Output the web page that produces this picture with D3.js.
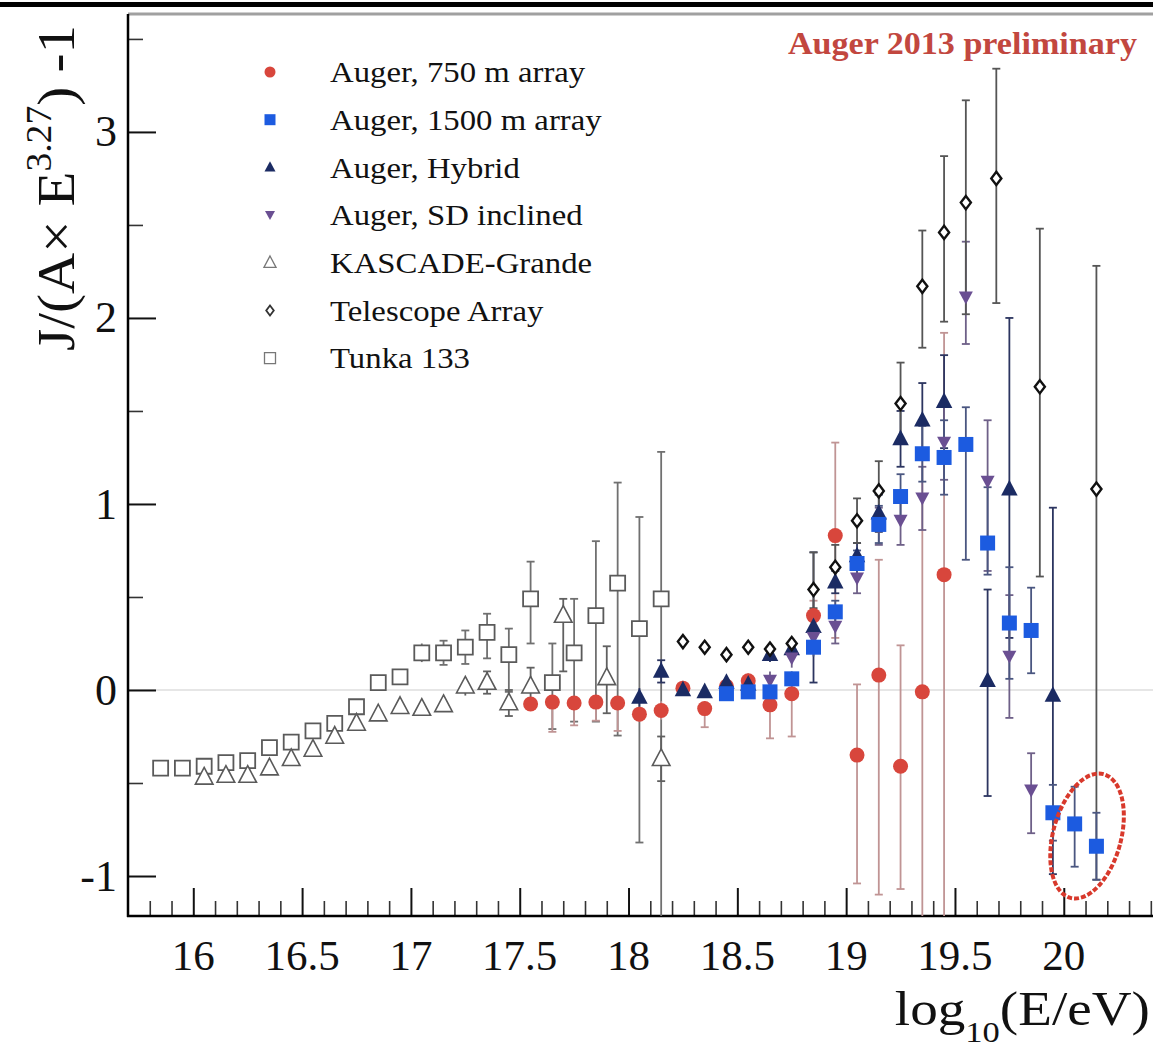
<!DOCTYPE html>
<html><head><meta charset="utf-8">
<script src="https://cdn.jsdelivr.net/npm/d3@7"></script>
<style>html,body{margin:0;padding:0;background:#fff;}svg{display:block;font-family:"Liberation Serif","DejaVu Serif",serif;}</style>
</head><body><svg id="c" width="1153" height="1055"></svg>
<script>
// ---------------- DATA ----------------
const xTickLabels = ["16","16.5","17","17.5","18","18.5","19","19.5","20"];
const yTickLabels = ["-1","0","1","2","3"];
const legendLabels = ["Auger, 750 m array","Auger, 1500 m array","Auger, Hybrid","Auger, SD inclined","KASCADE-Grande","Telescope Array","Tunka 133"];

const tunkaX = [15.85,15.95,16.05,16.15,16.25,16.35,16.45,16.55,16.65,16.75,16.85,16.95,17.05,17.15,17.25,17.35,17.45,17.55,17.65,17.75,17.85,17.95,18.05,18.15];
const tunkaY = [-0.42,-0.42,-0.41,-0.39,-0.38,-0.31,-0.28,-0.22,-0.18,-0.09,0.04,0.07,0.20,0.20,0.23,0.31,0.19,0.49,0.04,0.20,0.40,0.575,0.33,0.49];
const tunkaErrLo = [0.01,0.01,0.02,0.02,0.02,0.02,0.02,0.02,0.03,0.03,0.03,0.04,0.05,0.065,0.09,0.14,0.20,0.24,0.25,0.37,0.57,0.82,1.15,1.8];
const tunkaErrHi = [0.01,0.01,0.02,0.02,0.02,0.02,0.02,0.02,0.03,0.03,0.03,0.04,0.05,0.065,0.09,0.10,0.14,0.20,0.21,0.29,0.40,0.54,0.60,0.79];

const kgX = [16.05,16.15,16.25,16.35,16.45,16.55,16.65,16.75,16.85,16.95,17.05,17.15,17.25,17.35,17.45,17.55,17.70,17.90,18.15];
const kgY = [-0.47,-0.46,-0.46,-0.42,-0.37,-0.32,-0.25,-0.18,-0.13,-0.09,-0.10,-0.08,0.02,0.04,-0.07,0.02,0.40,0.065,-0.37];
const kgErrLo = [0.02,0.02,0.02,0.02,0.02,0.02,0.02,0.02,0.02,0.02,0.02,0.03,0.05,0.06,0.07,0.10,0.30,0.19,0.12];
const kgErrHi = [0.02,0.02,0.02,0.02,0.02,0.02,0.02,0.02,0.02,0.02,0.02,0.03,0.05,0.06,0.07,0.10,0.09,0.17,0.12];

const a750X = [17.55,17.65,17.75,17.85,17.95,18.05,18.15,18.25,18.35,18.45,18.55,18.65,18.75,18.85,18.95,19.05,19.15,19.25,19.35,19.45];
const a750Y = [-0.075,-0.065,-0.07,-0.065,-0.07,-0.13,-0.11,0.01,-0.10,0.02,0.05,-0.08,-0.02,0.40,0.83,-0.35,0.08,-0.41,-0.01,0.62];
const a750ErrLo = [0.03,0.16,0.12,0.10,0.15,0.04,0.05,0.04,0.10,0.04,0.04,0.18,0.23,0.08,0.55,0.69,1.18,0.66,1.30,1.90];
const a750ErrHi = [0.03,0.03,0.03,0.03,0.03,0.04,0.05,0.04,0.04,0.04,0.04,0.05,0.05,0.08,0.50,0.38,0.62,0.65,1.30,1.30];

const a1500X = [18.45,18.55,18.65,18.75,18.85,18.95,19.05,19.15,19.25,19.35,19.45,19.55,19.65,19.75,19.85,19.95,20.05,20.15];
const a1500Y = [-0.02,-0.01,-0.01,0.06,0.23,0.42,0.68,0.89,1.04,1.27,1.25,1.32,0.79,0.36,0.32,-0.66,-0.72,-0.84];
const a1500ErrLo = [0.03,0.03,0.03,0.04,0.05,0.06,0.07,0.10,0.12,0.15,0.20,0.62,0.17,0.30,0.23,0.15,0.23,0.18];
const a1500ErrHi = [0.03,0.03,0.03,0.04,0.05,0.06,0.07,0.10,0.12,0.15,0.20,0.20,0.30,0.30,0.23,0.15,0.20,0.18];

const hybX = [18.05,18.15,18.25,18.35,18.45,18.55,18.65,18.75,18.85,18.95,19.05,19.15,19.25,19.35,19.45,19.65,19.75,19.95];
const hybY = [-0.04,0.10,0.00,-0.01,0.04,0.03,0.19,0.22,0.34,0.58,0.72,0.95,1.35,1.45,1.55,0.05,1.08,-0.03];
const hybErrLo = [0.05,0.06,0.03,0.03,0.03,0.03,0.04,0.05,0.30,0.06,0.07,0.10,0.15,0.20,0.25,0.62,0.80,0.96];
const hybErrHi = [0.05,0.06,0.03,0.03,0.03,0.03,0.04,0.05,0.40,0.06,0.07,0.10,0.15,0.20,0.25,0.49,0.92,1.01];

const sdX = [18.65,18.75,18.85,18.95,19.05,19.15,19.25,19.35,19.45,19.55,19.65,19.75,19.85];
const sdY = [0.05,0.17,0.28,0.34,0.60,0.88,0.91,1.03,1.33,2.11,1.12,0.18,-0.54];
const sdErrLo = [0.05,0.05,0.06,0.09,0.08,0.10,0.13,0.17,0.20,0.25,0.48,0.33,0.23];
const sdErrHi = [0.05,0.05,0.06,0.09,0.08,0.10,0.13,0.17,0.20,0.30,0.33,0.33,0.20];

const taX = [18.25,18.35,18.45,18.55,18.65,18.75,18.85,18.95,19.05,19.15,19.25,19.35,19.45,19.55,19.69,19.89,20.15];
const taY = [0.26,0.23,0.19,0.23,0.22,0.25,0.54,0.66,0.91,1.07,1.54,2.17,2.46,2.62,2.75,1.63,1.08];
const taErrLo = [0.02,0.02,0.02,0.02,0.03,0.03,0.10,0.10,0.12,0.16,0.20,0.33,0.48,0.60,0.67,1.02,2.10];
const taErrHi = [0.02,0.02,0.02,0.02,0.03,0.03,0.20,0.12,0.12,0.16,0.22,0.30,0.41,0.55,0.59,0.85,1.20];

// annotation (hand-drawn ellipse) centre in data units
const ellipseCentre = [20.107, -0.785];

// ---------------- CHART ----------------
const svg = d3.select("#c");
const plot = {left:128, right:1153, top:14, bottom:916};
const x = d3.scaleLinear().domain([15.7, 20.41]).range([plot.left, plot.right]);
const y = d3.scaleLinear().domain([-1.215, 3.634]).range([plot.bottom, plot.top]);
const SX = 1.1; // horizontal stretch of the source image text

function txt(g, px, py, str, o) {
  const sx = (o.sx === undefined) ? SX : o.sx;
  const t = g.append("text")
    .attr("transform", `translate(${px},${py}) scale(${sx},1)`)
    .attr("text-anchor", o.anchor||"start")
    .attr("font-size", o.size)
    .attr("font-weight", o.weight||"normal")
    .attr("fill", o.fill||"#111");
  if (o.dy) t.attr("dy", o.dy);
  t.text(str);
  return t;
}

// page top border
svg.append("rect").attr("x",0).attr("y",2).attr("width",1153).attr("height",5).attr("fill","#000");
// top frame
svg.append("line").attr("x1",plot.left).attr("x2",plot.right).attr("y1",14).attr("y2",14)
  .attr("stroke","#a0a0a0").attr("stroke-width",3);

// zero line
svg.append("line").attr("x1",plot.left).attr("x2",plot.right).attr("y1",y(0)).attr("y2",y(0))
  .attr("stroke","#e6e6e6").attr("stroke-width",2);

// axes
const xMajorVals = xTickLabels.map(Number);
const xMinorVals = d3.range(158, 205).map(d => d/10).filter(v => Math.abs(v*2 - Math.round(v*2)) > 1e-6);
const yMajorVals = yTickLabels.map(Number);
const yMinorVals = [-0.5, 0.5, 1.5, 2.5, 3.5];

const gx = svg.append("g").attr("transform", `translate(0,${plot.bottom})`);
gx.append("g").call(d3.axisBottom(x).tickValues(xMinorVals).tickSize(-15).tickFormat(""))
  .call(g => { g.select(".domain").remove(); g.selectAll("line").attr("stroke","#333").attr("stroke-width",1.6); });
gx.append("g").call(d3.axisBottom(x).tickValues(xMajorVals).tickSize(-28).tickFormat(""))
  .call(g => { g.select(".domain").remove(); g.selectAll("line").attr("stroke","#111").attr("stroke-width",2); });

const gy = svg.append("g").attr("transform", `translate(${plot.left},0)`);
gy.append("g").call(d3.axisLeft(y).tickValues(yMinorVals).tickSize(-15).tickFormat(""))
  .call(g => { g.select(".domain").remove(); g.selectAll("line").attr("stroke","#333").attr("stroke-width",1.6); });
gy.append("g").call(d3.axisLeft(y).tickValues(yMajorVals).tickSize(-28).tickFormat(""))
  .call(g => { g.select(".domain").remove(); g.selectAll("line").attr("stroke","#111").attr("stroke-width",2); });

// axis lines
svg.append("line").attr("x1",plot.left).attr("x2",plot.left).attr("y1",plot.top).attr("y2",plot.bottom+1)
  .attr("stroke","#000").attr("stroke-width",2.5);
svg.append("line").attr("x1",plot.left-1).attr("x2",plot.right).attr("y1",plot.bottom).attr("y2",plot.bottom)
  .attr("stroke","#000").attr("stroke-width",2.5);

// tick labels
const labG = svg.append("g");
xTickLabels.forEach(l => txt(labG, x(+l), 970, l, {size:43, anchor:"middle", sx:1.0}));
yTickLabels.forEach(l => txt(labG, 117, y(+l), l, {size:44, anchor:"end", dy:"0.33em", sx:1.0}));

// axis titles
const xt = svg.append("text").attr("transform", `translate(1150,1025) scale(1.15,1)`)
  .attr("text-anchor","end").attr("font-size",48).attr("fill","#111");
xt.append("tspan").text("log");
xt.append("tspan").attr("font-size",30).attr("dy",17).text("10");
xt.append("tspan").attr("dy",-17).text("(E/eV)");

const yt = svg.append("text").attr("transform", `translate(74,188) rotate(-90) scale(1.14,1.06)`)
  .attr("text-anchor","middle").attr("font-size",50).attr("fill","#111");
yt.append("tspan").text("J/(A× E");
yt.append("tspan").attr("font-size",33).attr("dy",-22).text("3.27");
yt.append("tspan").attr("dy",22).text(") -1");

// "Auger 2013 preliminary"
txt(svg, 1137, 54, "Auger 2013 preliminary", {size:31, anchor:"end", weight:"bold", fill:"#c2473f"});

// ---------------- MARKS ----------------
svg.append("clipPath").attr("id","clip").append("rect")
  .attr("x",plot.left+1).attr("y",plot.top).attr("width",plot.right-plot.left).attr("height",plot.bottom-plot.top);
const dataG = svg.append("g").attr("clip-path","url(#clip)");

const series = [
  {name:"tunka", xs:tunkaX, ys:tunkaY, lo:tunkaErrLo, hi:tunkaErrHi, bar:"#707070"},
  {name:"kg", xs:kgX, ys:kgY, lo:kgErrLo, hi:kgErrHi, bar:"#606060"},
  {name:"a750", xs:a750X, ys:a750Y, lo:a750ErrLo, hi:a750ErrHi, bar:"#c09494"},
  {name:"hyb", xs:hybX, ys:hybY, lo:hybErrLo, hi:hybErrHi, bar:"#2c3560"},
  {name:"sd", xs:sdX, ys:sdY, lo:sdErrLo, hi:sdErrHi, bar:"#6e6088"},
  {name:"ta", xs:taX, ys:taY, lo:taErrLo, hi:taErrHi, bar:"#555"},
  {name:"a1500", xs:a1500X, ys:a1500Y, lo:a1500ErrLo, hi:a1500ErrHi, bar:"#4a5680"}
];

// error bars
const errG = dataG.append("g");
series.forEach(s => {
  const pts = s.xs.map((xv,i) => ({x:xv, y:s.ys[i], lo:s.lo[i], hi:s.hi[i]}));
  const g = errG.append("g").attr("stroke", s.bar).attr("stroke-width",1.8);
  g.selectAll("line.v").data(pts).join("line").attr("class","v")
    .attr("x1",d=>x(d.x)).attr("x2",d=>x(d.x)).attr("y1",d=>y(d.y-d.lo)).attr("y2",d=>y(d.y+d.hi));
  g.selectAll("line.t").data(pts.filter(d=>d.hi>0.05)).join("line").attr("class","t")
    .attr("x1",d=>x(d.x)-4).attr("x2",d=>x(d.x)+4).attr("y1",d=>y(d.y+d.hi)).attr("y2",d=>y(d.y+d.hi));
  g.selectAll("line.b").data(pts.filter(d=>d.lo>0.05)).join("line").attr("class","b")
    .attr("x1",d=>x(d.x)-4).attr("x2",d=>x(d.x)+4).attr("y1",d=>y(d.y-d.lo)).attr("y2",d=>y(d.y-d.lo));
});

// marker shapes (relative paths)
const shapes = {
  circle: r => `M${-r},0a${r},${r} 0 1,0 ${2*r},0a${r},${r} 0 1,0 ${-2*r},0Z`,
  square: s => `M${-s/2},${-s/2}h${s}v${s}h${-s}Z`,
  triUp: s => `M0,${-s*0.62}L${s*0.55},${s*0.42}L${-s*0.55},${s*0.42}Z`,
  triDown: s => `M0,${s*0.5}L${s*0.5},${-s*0.42}L${-s*0.5},${-s*0.42}Z`,
  diamond: s => `M0,${-s*0.55}L${s*0.42},0L0,${s*0.55}L${-s*0.42},0Z`
};
const styles = {
  tunka: {shape:"square", size:15, fill:"#fff", stroke:"#5a5a5a", sw:1.8, lsize:11},
  kg:    {shape:"triUp", size:16, fill:"#fff", stroke:"#5a5a5a", sw:1.6, lsize:11},
  a750:  {shape:"circle", size:7.5, fill:"#d8463c", stroke:"none", sw:0, lsize:5.5},
  hyb:   {shape:"triUp", size:15, fill:"#1b2b63", stroke:"none", sw:0, lsize:10},
  sd:    {shape:"triDown", size:14, fill:"#6a4f92", stroke:"none", sw:0, lsize:10},
  a1500: {shape:"square", size:15, fill:"#1c5be0", stroke:"none", sw:0, lsize:11},
  ta:    {shape:"diamond", size:12, fill:"#fff", stroke:"#111", sw:2.4, lsize:9}
};
const drawOrder = ["tunka","kg","a750","hyb","sd","a1500","ta"];
const markG = dataG.append("g");
drawOrder.forEach(n => {
  const s = series.find(q => q.name === n), st = styles[n];
  const pts = s.xs.map((xv,i) => ({x:xv, y:s.ys[i]}));
  markG.append("g").selectAll("path").data(pts).join("path")
    .attr("transform", d => `translate(${x(d.x)},${y(d.y)})`)
    .attr("d", shapes[st.shape](st.size))
    .attr("fill", st.fill).attr("stroke", st.stroke).attr("stroke-width", st.sw);
});

// ---------------- LEGEND ----------------
const legendKeys = ["a750","a1500","hyb","sd","kg","ta","tunka"];
const legG = svg.append("g");
legendKeys.forEach((k,i) => {
  const st = styles[k];
  const ly = 72 + i*47.7;
  legG.append("path").attr("transform", `translate(270,${ly})`)
    .attr("d", shapes[st.shape](st.lsize))
    .attr("fill", st.fill).attr("stroke", st.stroke === "none" ? "none" : (k==="ta"?"#333":"#777"))
    .attr("stroke-width", k==="ta" ? 1.8 : 1.3);
  txt(legG, 330, ly, legendLabels[i], {size:29, dy:"0.35em", sx:1.13});
});

// ---------------- ANNOTATION ----------------
svg.append("ellipse")
  .attr("cx", x(ellipseCentre[0])).attr("cy", y(ellipseCentre[1]))
  .attr("rx", 34).attr("ry", 64)
  .attr("transform", `rotate(15 ${x(ellipseCentre[0])} ${y(ellipseCentre[1])})`)
  .attr("fill","none").attr("stroke","#d8392c").attr("stroke-width",4).attr("stroke-dasharray","5 2");
</script>
</body></html>
